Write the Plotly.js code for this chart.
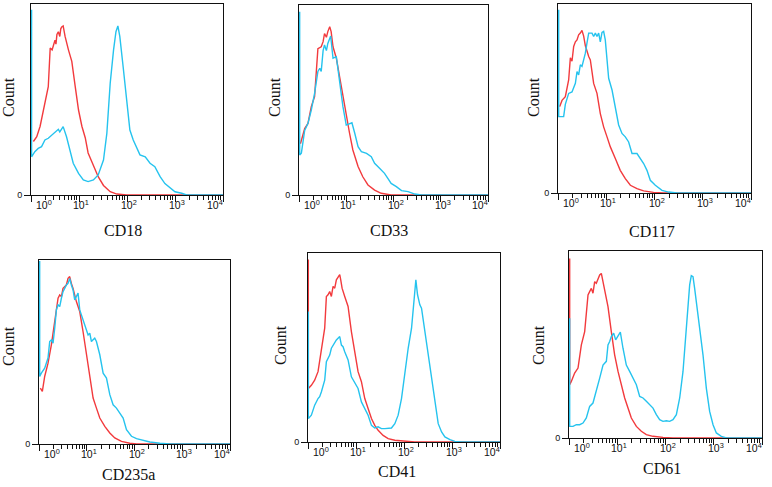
<!DOCTYPE html>
<html>
<head>
<meta charset="utf-8">
<script src="https://cdn.plot.ly/plotly-3.0.1.min.js"></script>
<style>html,body{margin:0;padding:0;background:#fff}#chart{width:772px;height:487px}</style>
</head>
<body>
<div id="chart"></div>
<script>
// Marker names (x axis titles)
const markers = ["CD18", "CD33", "CD117", "CD235a", "CD41", "CD61"];
const decadeLabels = ["10<sup>0</sup>", "10<sup>1</sup>", "10<sup>2</sup>", "10<sup>3</sup>", "10<sup>4</sup>"];
const yLabel = "Count";

// Fluorescence intensity given as log10 values; counts on a 0-100 scale (box top = 100)
const cd18_red_log = [0.05,0.12,0.19,0.26,0.33,0.36,0.40,0.44,0.47,0.50,0.52,0.54,0.57,0.60,0.62,0.64,0.67,0.71,0.78,0.85,0.92,0.99,1.06,1.13,1.19,1.30,1.40,1.51,1.65,1.79,1.99,4.0];
const cd18_red_count = [28,30.5,36,44.5,51.5,56.7,77,76,78.5,81,79,84,85.5,83,87,88,88.5,83,76,70,57,44.5,36,30,22,15,9.6,5,1.7,0.5,0,0];
const cd18_cyan_log = [0.012,0.012,0.08,0.15,0.22,0.29,0.36,0.43,0.50,0.57,0.60,0.67,0.74,0.81,0.88,0.99,1.09,1.19,1.30,1.40,1.51,1.58,1.65,1.72,1.77,1.81,1.85,1.92,1.99,2.06,2.13,2.20,2.27,2.38,2.48,2.58,2.69,2.79,2.90,3.00,3.14,3.24,4.0];
const cd18_cyan_count = [97,20,22.7,24.4,25.3,28.8,29.7,31.4,33,34.4,33,35.8,30.5,22.7,16.6,11.3,7.9,7,7.9,10.5,18.3,32.3,58.5,76,85.5,88.5,83,67,49.7,34,28.8,25.3,21,20,16.6,14.8,9.6,6,3.5,1.7,0.9,0,0];

const cd33_red_log = [0.03,0.12,0.19,0.26,0.33,0.40,0.47,0.51,0.54,0.58,0.61,0.65,0.68,0.72,0.79,0.86,0.93,1.00,1.07,1.14,1.25,1.35,1.46,1.60,1.74,1.95,4.0];
const cd33_red_count = [27,35,37.7,46.5,51.8,77,78,80.7,85,83,86,88.6,86,78,72,62,51.8,41,32.5,23.7,15,9.6,5.3,2.6,0.9,0,0];
const cd33_cyan_log = [0.014,0.014,0.05,0.12,0.19,0.26,0.33,0.40,0.44,0.47,0.51,0.54,0.58,0.61,0.67,0.72,0.79,0.86,0.93,1.00,1.07,1.12,1.18,1.25,1.32,1.43,1.53,1.60,1.71,1.81,1.88,1.95,2.06,2.17,2.31,2.45,2.59,4.0];
const cd33_cyan_count = [96.5,21,22,34,37.7,44.7,53.5,65,66.7,65,76,79,76,79.8,83.7,72,72.8,59.6,46.5,36.8,37.4,38,32.5,25.4,22.8,21.9,20.2,16.7,14,11.4,8.8,6.1,4.4,2.3,1.75,0.5,0,0];

const cd117_red_log = [0.035,0.083,0.152,0.221,0.256,0.29,0.325,0.36,0.394,0.428,0.463,0.497,0.532,0.567,0.636,0.67,0.739,0.808,0.877,0.946,1.016,1.085,1.188,1.29,1.395,1.50,1.637,1.775,1.98,2.19,4.0];
const cd117_red_count = [45.7,49,51,59.8,71.5,69.7,77.5,80,81,83.7,84.6,86,83,77.9,72.2,70.4,58,52.7,42,35,29.7,24.4,18.2,12,7.6,4.1,2.3,1.1,0.35,0,0];
const cd117_cyan_log = [0.014,0.014,0.117,0.152,0.221,0.29,0.36,0.394,0.428,0.463,0.497,0.532,0.567,0.60,0.636,0.705,0.739,0.774,0.808,0.843,0.877,0.912,0.946,0.98,1.016,1.05,1.12,1.188,1.257,1.326,1.395,1.464,1.534,1.637,1.706,1.775,1.844,1.913,2.017,2.155,2.294,2.466,4.0];
const cd117_cyan_count = [97,40.4,40.4,46.9,52.7,53.5,58,64.2,62.5,67.8,67,70.4,74,79.3,84.6,84.6,82.8,84.6,82.8,84.6,80,85,85.5,81,72,60.7,54.5,45.7,36,31.5,29.7,27,20.9,20.9,18.2,15.6,12,6.7,4.1,1.4,0.5,0,0];

const cd235a_red_log = [0.028,0.07,0.119,0.189,0.259,0.329,0.399,0.434,0.469,0.503,0.538,0.573,0.608,0.643,0.678,0.713,0.783,0.853,0.923,0.993,1.063,1.133,1.203,1.273,1.378,1.483,1.587,1.727,1.902,2.042,4.0];
const cd235a_red_count = [30.4,28.6,36.7,43.9,53.9,66.5,79.2,81,80.1,84.6,85.5,86.4,90,91,87.3,84.6,77.4,72,61,48.5,35.8,25,19.5,14.1,9.6,6,3.3,1.4,0.4,0,0];
const cd235a_cyan_log = [0.014,0.014,0.049,0.119,0.189,0.224,0.259,0.294,0.329,0.364,0.399,0.434,0.469,0.503,0.538,0.573,0.608,0.643,0.678,0.713,0.748,0.783,0.818,0.853,0.888,0.923,0.993,1.028,1.063,1.098,1.133,1.168,1.203,1.273,1.343,1.413,1.483,1.552,1.622,1.692,1.762,1.832,1.937,2.042,2.182,2.322,2.531,2.741,4.0];
const cd235a_cyan_count = [99.5,36.7,38.5,41.2,46.7,55.7,56.6,54.8,63,72.9,75.6,74.7,79.2,82.8,84.6,86.4,87.3,90,86.4,83.7,78.3,80.1,82,72.9,70.2,67.5,63,59.3,60.2,55.7,56.6,57.5,55.7,48.5,38.5,35.8,26.8,21.3,19.5,16.8,14.1,7.8,4.2,2.9,1.8,1.1,0.4,0,0];

const cd41_red_log = [0.007,0.007,0.07,0.139,0.209,0.278,0.348,0.383,0.417,0.452,0.487,0.522,0.557,0.591,0.626,0.661,0.682,0.71,0.765,0.835,0.904,0.974,1.043,1.113,1.183,1.252,1.322,1.391,1.461,1.565,1.67,1.809,2.017,2.226,4.0];
const cd41_red_count = [96.5,28.3,30,32.7,37.2,49.6,60.2,77,77.9,79.6,77,82.3,81.4,85.8,87.6,88.5,85.8,81.4,77,71.7,58.4,47.8,37.2,31.9,23,17.7,12.4,8.8,6.2,3.5,1.8,0.9,0.35,0,0];
const cd41_cyan_log = [0.007,0.007,0.07,0.139,0.209,0.243,0.278,0.348,0.383,0.417,0.452,0.487,0.557,0.591,0.626,0.661,0.696,0.73,0.765,0.835,0.904,0.974,1.043,1.113,1.183,1.252,1.322,1.391,1.461,1.53,1.6,1.67,1.739,1.809,1.878,1.948,2.017,2.087,2.157,2.212,2.247,2.282,2.33,2.365,2.435,2.504,2.574,2.643,2.713,2.783,2.852,2.957,3.061,3.2,4.0];
const cd41_cyan_count = [69,12.4,14.2,19.5,23,24,26.5,32.7,42.5,44.2,46,49.6,53,54,54.9,55.8,51.3,50.4,47.8,43.4,34.5,31,28.3,21.2,17.7,14.2,8.8,7.4,8,7.1,7.1,7.1,7.4,9.7,14.2,23,37.2,49.6,60.2,77.9,85.8,77.9,72.6,70.8,58.4,46,33.6,21.2,9.7,5.3,2.7,1.2,0.35,0,0];

const cd61_red_log = [0.014,0.014,0.048,0.117,0.187,0.256,0.325,0.394,0.428,0.463,0.497,0.532,0.566,0.601,0.636,0.67,0.705,0.739,0.808,0.877,0.946,1.016,1.085,1.154,1.223,1.292,1.396,1.499,1.603,1.741,1.948,2.155,4.0];
const cd61_red_count = [96,28.5,30.2,34.7,37.4,49.8,56.9,76.5,78.3,80,77.4,83.6,82.7,85.4,87.2,88,83.6,77.4,70.3,56.9,44.5,35.6,28.5,21.4,16,10.7,6.2,3.6,1.8,0.9,0.35,0,0];
const cd61_cyan_log = [0.014,0.014,0.083,0.152,0.221,0.29,0.359,0.428,0.497,0.566,0.636,0.705,0.774,0.808,0.843,0.877,0.926,0.967,1.016,1.064,1.119,1.188,1.257,1.326,1.396,1.465,1.534,1.603,1.672,1.741,1.81,1.879,1.948,2.017,2.086,2.155,2.225,2.294,2.363,2.397,2.432,2.466,2.501,2.535,2.57,2.604,2.639,2.708,2.777,2.846,2.915,2.985,3.054,3.157,3.261,4.0];
const cd61_cyan_count = [64,6.2,6.2,7.1,7.1,8,10.7,16.9,18.7,24.9,32,39,41,49.8,51.6,54.3,56,52.5,54.3,56.6,48,39,35.6,32,28.5,22.2,21.4,19.6,17.8,16,12.5,9.8,8.9,9.2,8.9,9.8,12.5,21.4,35.6,48,60.5,71.2,81.9,86.8,86.3,80,73,58.7,44.5,26.7,14.2,7.1,2.7,0.9,0,0];

const redSeries = [[cd18_red_log,cd18_red_count],[cd33_red_log,cd33_red_count],[cd117_red_log,cd117_red_count],[cd235a_red_log,cd235a_red_count],[cd41_red_log,cd41_red_count],[cd61_red_log,cd61_red_count]];
const cyanSeries = [[cd18_cyan_log,cd18_cyan_count],[cd33_cyan_log,cd33_cyan_count],[cd117_cyan_log,cd117_cyan_count],[cd235a_cyan_log,cd235a_cyan_count],[cd41_cyan_log,cd41_cyan_count],[cd61_cyan_log,cd61_cyan_count]];

// ---- layout (pixel boxes of each panel: left, right, top, bottom) ----
const W = 772, H = 487;
const boxes = [
  [31, 223, 4, 195], [299, 488, 5, 195], [558, 751, 4, 193],
  [39, 230, 260, 444], [308, 500, 253, 442], [569, 762, 251, 438]
];
const countPos = [[8, 97], [274, 97], [533, 97], [8, 346], [280, 345], [538, 345]];
const titlePos = [[123, 230], [389, 230], [652, 232], [128, 474], [397, 471], [662, 468]];
const labelShifts = [12.7, 2.2, 2.2, 2.2, -7.8];
const RED = '#f23a3d', CYAN = '#25c3ee';

const minorVals = [];
for (let d = 0; d < 4; d++) for (let k = 2; k <= 9; k++) minorVals.push(k * Math.pow(10, d));

const data = [];
const layout = {
  width: W, height: H, margin: {l: 0, r: 0, t: 0, b: 0},
  paper_bgcolor: '#fff', plot_bgcolor: '#fff', showlegend: false,
  annotations: []
};
const sans = 'Liberation Sans, Arial, sans-serif';
const serif = 'Liberation Serif, Times New Roman, serif';

boxes.forEach((b, i) => {
  const n = i + 1, sfx = n === 1 ? '' : String(n);
  const [L, R, T, B] = b;
  layout['xaxis' + sfx] = {
    domain: [L / W, R / W], anchor: 'y' + sfx, type: 'log', range: [0, 4],
    tickmode: 'array', tickvals: [1, 10, 100, 1000, 10000], showticklabels: false,
    ticks: 'outside', ticklen: 6, tickwidth: 1, tickcolor: '#111',
    minor: {tickmode: 'array', tickvals: minorVals, ticks: 'outside', ticklen: 3.5, tickwidth: 1, tickcolor: '#111', showgrid: false},
    showline: true, mirror: true, linecolor: '#111', linewidth: 1,
    showgrid: false, zeroline: false, fixedrange: true
  };
  layout['yaxis' + sfx] = {
    domain: [1 - B / H, 1 - T / H], anchor: 'x' + sfx, range: [0, 100],
    tickmode: 'array', tickvals: [0], ticktext: ['0'],
    ticks: 'outside', ticklen: 6, tickwidth: 1, tickcolor: '#111',
    tickfont: {family: sans, size: 9, color: '#111'},
    showline: true, mirror: true, linecolor: '#111', linewidth: 1,
    showgrid: false, zeroline: false, fixedrange: true
  };
  const xr = 'x' + sfx, yr = 'y' + sfx;
  data.push({x: redSeries[i][0].map(v => Math.pow(10, v)), y: redSeries[i][1], xaxis: xr, yaxis: yr,
    type: 'scatter', mode: 'lines', line: {color: RED, width: 1.4}, hoverinfo: 'skip'});
  data.push({x: cyanSeries[i][0].map(v => Math.pow(10, v)), y: cyanSeries[i][1], xaxis: xr, yaxis: yr,
    type: 'scatter', mode: 'lines', line: {color: CYAN, width: 1.4}, hoverinfo: 'skip'});
  // decade tick labels (edge ones pulled inward like the original)
  decadeLabels.forEach((t, d) => {
    layout.annotations.push({xref: xr, yref: 'paper', x: d, y: 1 - (B + 1) / H,
      xanchor: 'center', yanchor: 'top', xshift: labelShifts[d], showarrow: false, text: t,
      font: {family: sans, size: 10.5, color: '#111'}});
  });
  layout.annotations.push({xref: 'paper', yref: 'paper', x: countPos[i][0] / W, y: 1 - countPos[i][1] / H,
    xanchor: 'center', yanchor: 'middle', textangle: -90, showarrow: false, text: yLabel,
    font: {family: serif, size: 16, color: '#111'}});
  layout.annotations.push({xref: 'paper', yref: 'paper', x: titlePos[i][0] / W, y: 1 - titlePos[i][1] / H,
    xanchor: 'center', yanchor: 'middle', showarrow: false, text: markers[i],
    font: {family: serif, size: 16, color: '#111'}});
});

Plotly.newPlot('chart', data, layout, {staticPlot: true, displayModeBar: false});
</script>
</body>
</html>
